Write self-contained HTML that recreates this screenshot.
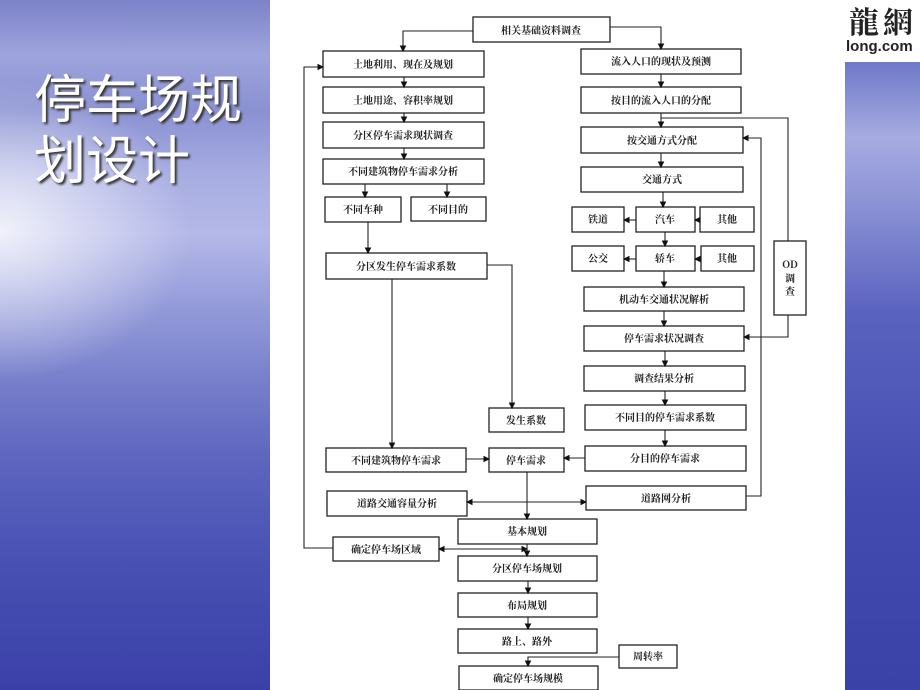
<!DOCTYPE html>
<html><head><meta charset="utf-8"><style>
html,body{margin:0;padding:0;width:920px;height:690px;overflow:hidden;background:#fff}
.l{position:absolute;left:0;top:0;width:270px;height:690px;background:linear-gradient(180deg,#7c83c9 0%,#9ea4dc 8%,#8a91d2 16%,#a9aee2 26%,#b4b8e8 34%,#959cda 44%,#7880cc 55%,#5e66c0 66%,#4a52b4 80%,#3a40a8 100%)}
.l2{position:absolute;left:0;top:0;width:270px;height:690px;background:radial-gradient(ellipse 190px 150px at 0px 230px,rgba(255,255,255,.8),rgba(255,255,255,0))}
.r{position:absolute;left:845px;top:62px;width:75px;height:628px;background:linear-gradient(180deg,#6f78c8 0%,#a6abe0 12%,#8d94d6 22%,#5a62bf 40%,#434bb0 70%,#3a42a8 100%)}
.t{position:absolute;left:34px;font:52px "Noto Sans CJK SC","WenQuanYi Zen Hei",sans-serif;color:#fff;text-shadow:2px 2px 2px #333;line-height:52px;white-space:nowrap}
</style></head><body>
<div class="l"></div><div class="l2"></div><div class="r"></div>
<div class="t" style="top:70px">停车场规</div>
<div class="t" style="top:131px">划设计</div>
<div style="position:absolute;left:849px;top:3px;font:bold 30px 'Noto Serif CJK SC',serif;color:#222;letter-spacing:4px;white-space:nowrap;line-height:34px">龍網</div>
<div style="position:absolute;left:846px;top:38px;font:bold 15px 'Liberation Sans',sans-serif;color:#222;white-space:nowrap">long.com</div>
<svg width="920" height="690" style="position:absolute;left:0;top:0" font-family="'Noto Serif CJK SC','WenQuanYi Zen Hei',serif" font-size="10" font-weight="bold" fill="#222">
<defs><marker id="a" markerWidth="6" markerHeight="6" refX="5" refY="3" orient="auto"><path d="M0,0L6,3L0,6z" fill="#111"/></marker></defs>
<g fill="none" stroke="#222" stroke-width="1.3">
<rect x="473" y="17" width="137" height="25"/>
<rect x="323" y="51" width="161" height="26"/>
<rect x="323" y="87" width="161" height="26"/>
<rect x="323" y="122" width="161" height="26"/>
<rect x="323" y="159" width="161" height="25"/>
<rect x="325" y="197" width="76" height="25"/>
<rect x="411" y="197" width="75" height="24"/>
<rect x="326" y="253" width="161" height="26"/>
<rect x="581" y="49" width="160" height="25"/>
<rect x="581" y="87" width="160" height="26"/>
<rect x="581" y="127" width="162" height="26"/>
<rect x="581" y="167" width="162" height="25"/>
<rect x="572" y="207" width="52" height="25"/>
<rect x="636" y="207" width="59" height="25"/>
<rect x="700" y="207" width="54" height="25"/>
<rect x="572" y="246" width="52" height="25"/>
<rect x="636" y="246" width="59" height="25"/>
<rect x="701" y="246" width="53" height="25"/>
<rect x="584" y="287" width="160" height="24"/>
<rect x="584" y="326" width="160" height="25"/>
<rect x="774" y="241" width="32" height="74"/>
<rect x="584" y="366" width="161" height="25"/>
<rect x="585" y="405" width="161" height="25"/>
<rect x="585" y="446" width="161" height="25"/>
<rect x="489" y="408" width="75" height="24"/>
<rect x="326" y="448" width="140" height="24"/>
<rect x="489" y="448" width="75" height="24"/>
<rect x="327" y="491" width="140" height="25"/>
<rect x="586" y="486" width="160" height="24"/>
<rect x="458" y="519" width="139" height="25"/>
<rect x="333" y="537" width="106" height="24"/>
<rect x="458" y="556" width="139" height="25"/>
<rect x="458" y="593" width="139" height="24"/>
<rect x="458" y="629" width="139" height="24"/>
<rect x="619" y="645" width="58" height="23"/>
<rect x="459" y="666" width="139" height="24"/>
</g>
<g fill="none" stroke="#222" stroke-width="1.1">
<path d="M473,31H403V51" marker-end="url(#a)"/>
<path d="M610,27H661V49" marker-end="url(#a)"/>
<path d="M404,77V87" marker-end="url(#a)"/>
<path d="M404,113V122" marker-end="url(#a)"/>
<path d="M404,148V159" marker-end="url(#a)"/>
<path d="M365,184V197" marker-end="url(#a)"/>
<path d="M447,184V197" marker-end="url(#a)"/>
<path d="M368,222V253" marker-end="url(#a)"/>
<path d="M487,265H512V408" marker-end="url(#a)"/>
<path d="M392,279V448" marker-end="url(#a)"/>
<path d="M333,548H304V67H323" marker-end="url(#a)"/>
<path d="M661,74V87" marker-end="url(#a)"/>
<path d="M661,113V127" marker-end="url(#a)"/>
<path d="M661,118H788V241"/>
<path d="M661,153V167" marker-end="url(#a)"/>
<path d="M663,192V207" marker-end="url(#a)"/>
<path d="M636,220H624" marker-end="url(#a)"/>
<path d="M700,220H695" marker-end="url(#a)"/>
<path d="M665,232V246" marker-end="url(#a)"/>
<path d="M636,259H624" marker-end="url(#a)"/>
<path d="M701,259H695" marker-end="url(#a)"/>
<path d="M664,271V287" marker-end="url(#a)"/>
<path d="M664,311V326" marker-end="url(#a)"/>
<path d="M788,315V337H744" marker-end="url(#a)"/>
<path d="M746,496H761V138H743" marker-end="url(#a)"/>
<path d="M665,351V366" marker-end="url(#a)"/>
<path d="M665,391V405" marker-end="url(#a)"/>
<path d="M665,430V446" marker-end="url(#a)"/>
<path d="M585,458H564" marker-end="url(#a)"/>
<path d="M466,459H489" marker-end="url(#a)"/>
<path d="M527,472V519" marker-end="url(#a)"/>
<path d="M527,502H467" marker-end="url(#a)"/>
<path d="M527,502H586" marker-end="url(#a)"/>
<path d="M527,549H439" marker-end="url(#a)"/>
<path d="M500,549H527" marker-end="url(#a)"/>
<path d="M527,544V556" marker-end="url(#a)"/>
<path d="M528,581V593" marker-end="url(#a)"/>
<path d="M528,617V629" marker-end="url(#a)"/>
<path d="M619,657H528V666" marker-end="url(#a)"/>
</g>
<g text-anchor="middle">
<text x="541" y="34">相关基础资料调查</text>
<text x="403" y="68">土地利用、现在及规划</text>
<text x="403" y="104">土地用途、容积率规划</text>
<text x="403" y="139">分区停车需求现状调查</text>
<text x="403" y="175">不同建筑物停车需求分析</text>
<text x="363" y="213">不同车种</text>
<text x="448" y="213">不同目的</text>
<text x="406" y="270">分区发生停车需求系数</text>
<text x="661" y="65">流入人口的现状及预测</text>
<text x="661" y="104">按目的流入人口的分配</text>
<text x="662" y="144">按交通方式分配</text>
<text x="662" y="183">交通方式</text>
<text x="598" y="223">铁道</text>
<text x="665" y="223">汽车</text>
<text x="727" y="223">其他</text>
<text x="598" y="262">公交</text>
<text x="665" y="262">轿车</text>
<text x="727" y="262">其他</text>
<text x="664" y="303">机动车交通状况解析</text>
<text x="664" y="342">停车需求状况调查</text>
<text x="790" y="268">OD</text>
<text x="790" y="282">调</text>
<text x="790" y="295">查</text>
<text x="664" y="382">调查结果分析</text>
<text x="665" y="421">不同目的停车需求系数</text>
<text x="665" y="462">分目的停车需求</text>
<text x="526" y="424">发生系数</text>
<text x="396" y="464">不同建筑物停车需求</text>
<text x="526" y="464">停车需求</text>
<text x="397" y="507">道路交通容量分析</text>
<text x="666" y="502">道路网分析</text>
<text x="527" y="535">基本规划</text>
<text x="386" y="553">确定停车场区域</text>
<text x="527" y="572">分区停车场规划</text>
<text x="527" y="609">布局规划</text>
<text x="527" y="645">路上、路外</text>
<text x="648" y="660">周转率</text>
<text x="528" y="682">确定停车场规模</text>
</g>
</svg>
</body></html>
